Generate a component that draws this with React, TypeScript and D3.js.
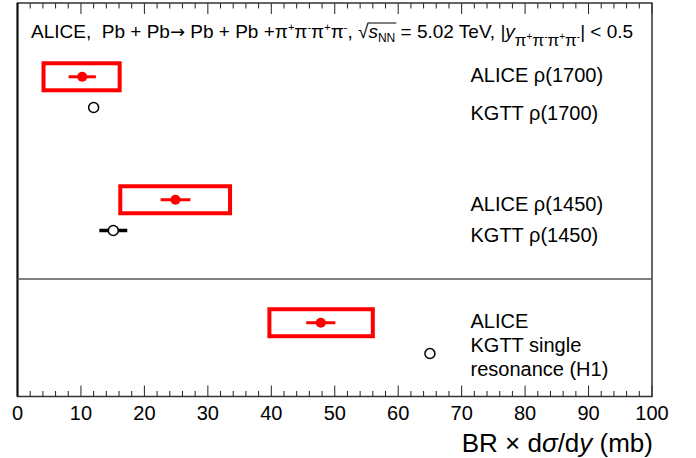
import React, { useLayoutEffect, useRef, useState } from 'react';
import * as d3 from 'd3';

const W = 696;
const H = 458;

// ---------- data ----------
const xDomain = [0, 100];
const tickLabels = [0, 10, 20, 30, 40, 50, 60, 70, 80, 90, 100];

const aliceLabels = ['ALICE ρ(1700)', 'ALICE ρ(1450)', 'ALICE'];
const aliceValues = [10.2, 24.9, 47.8];
const aliceStatErr = [2.15, 2.35, 2.3];
const aliceSysLow = [4.1, 16.2, 39.7];
const aliceSysHigh = [16.1, 33.5, 56.0];

const kgttLabels = ['KGTT ρ(1700)', 'KGTT ρ(1450)', 'KGTT single|resonance (H1)'];
const kgttValues = [12.0, 15.1, 65.0];
const kgttErr = [0, 2.2, 0];

// row positions (category axis units)
const aliceRows = [10, 6, 2];
const kgttRows = [9, 5, 1];
const dividerRow = 3.42;

// ---------- layout ----------
const FONT = '"Liberation Sans", Arial, Helvetica, sans-serif';
const frame = { left: 17.5, right: 652, top: 3, bottom: 396.5 };
const labelX = 470.5;
const labelBaselines = [[82.3, 120], [210.7, 241.7], [328.3, 352, 375.5]];

type Seg = { t: string; size?: number; dy?: number; italic?: boolean; key?: string; font?: string };
const titleSegs: Seg[] = [
  { t: 'ALICE,  Pb + Pb' },
  { t: '→', font: '"DejaVu Sans", sans-serif', size: 18 },
  { t: ' Pb + Pb +' },
  { t: 'π' }, { t: '+', size: 11, dy: -7 }, { t: 'π' }, { t: '-', size: 11, dy: -7 },
  { t: 'π' }, { t: '+', size: 11, dy: -7 }, { t: 'π' }, { t: '-', size: 11, dy: -7 },
  { t: ', ' },
  { t: '√', key: 'rad' },
  { t: 's', italic: true, key: 'sStart' },
  { t: 'NN', size: 12, dy: 4, key: 'nnEnd' },
  { t: ' = 5.02 TeV, |' },
  { t: 'y', italic: true },
  { t: 'π', size: 17, dy: 8 }, { t: '+', size: 10, dy: 2 },
  { t: 'π', size: 17, dy: 8 }, { t: '-', size: 10, dy: 2 },
  { t: 'π', size: 17, dy: 8 }, { t: '+', size: 10, dy: 2 },
  { t: 'π', size: 17, dy: 8 }, { t: '-', size: 10, dy: 2 },
  { t: '| < 0.5' },
];

export default function App() {
  const x = d3.scaleLinear().domain(xDomain).range([frame.left, frame.right]);
  const y = d3.scaleLinear().domain([-0.4, 12.4]).range([frame.bottom, frame.top]);
  const minorTicks = x.ticks(50);
  const titleRef = useRef<SVGTextElement>(null);
  const [over, setOver] = useState<{ x1: number; x2: number } | null>(null);

  const titleX = 31;
  const titleY = 38;
  const titleSize = 19;

  useLayoutEffect(() => {
    const el = titleRef.current;
    if (!el) return;
    let idx = 0;
    let radIdx = 0, nnEnd = 0;
    titleSegs.forEach((s) => {
      if (s.key === 'rad') radIdx = idx;
      if (s.key === 'nnEnd') nnEnd = idx + s.t.length - 1;
      idx += s.t.length;
    });
    try {
      const x1 = el.getEndPositionOfChar(radIdx).x;
      const x2 = el.getEndPositionOfChar(nnEnd).x;
      setOver({ x1, x2 });
    } catch (e) {
      /* ignore */
    }
  }, []);

  let prevShift = 0;
  const tspans = titleSegs.map((s, i) => {
    const shift = s.dy ?? 0;
    const d = shift - prevShift;
    prevShift = shift;
    return (
      <tspan
        key={i}
        dy={d}
        fontSize={s.size ?? titleSize}
        fontStyle={s.italic ? 'italic' : 'normal'}
        fontFamily={s.font ?? FONT}
      >
        {s.t}
      </tspan>
    );
  });

  const boxHalf = 13.5;

  return (
    <svg
      width={W}
      height={H}
      style={{ position: 'absolute', left: 0, top: 0, background: '#fff' }}
      fontFamily={FONT}
    >
      <rect x={0} y={0} width={W} height={H} fill="#fff" />

      {/* ticks top & bottom */}
      {minorTicks.map((v) => {
        const major = Math.abs(v % 10) < 1e-6;
        const len = major ? 11 : 5.5;
        return (
          <g key={v} stroke="#222" strokeWidth={1}>
            <line x1={x(v)} x2={x(v)} y1={frame.bottom} y2={frame.bottom - len} />
            <line x1={x(v)} x2={x(v)} y1={frame.top} y2={frame.top + len} />
          </g>
        );
      })}

      {/* frame */}
      <rect
        x={frame.left}
        y={frame.top}
        width={frame.right - frame.left}
        height={frame.bottom - frame.top}
        fill="none"
        stroke="#333"
        strokeWidth={1.5}
      />
      <line x1={frame.left} x2={frame.left} y1={frame.top} y2={frame.bottom} stroke="#111" strokeWidth={2} />
      <line x1={frame.left} x2={frame.right} y1={y(dividerRow)} y2={y(dividerRow)} stroke="#555" strokeWidth={1.5} />

      {/* tick labels */}
      {tickLabels.map((v) => (
        <text key={v} x={x(v)} y={420} fontSize={20} textAnchor="middle" fill="#000">
          {v}
        </text>
      ))}

      {/* axis title */}
      <text x={653} y={452} fontSize={26} textAnchor="end" fill="#000" style={{ whiteSpace: 'pre' }}>
        <tspan>BR </tspan>
        <tspan>× d</tspan>
        <tspan fontStyle="italic">σ</tspan>
        <tspan>/d</tspan>
        <tspan fontStyle="italic">y</tspan>
        <tspan> (mb)</tspan>
      </text>

      {/* title */}
      <text ref={titleRef} x={titleX} y={titleY} fontSize={titleSize} fill="#000" style={{ whiteSpace: 'pre' }}>
        {tspans}
      </text>
      {over && (
        <line x1={over.x1 - 1} x2={over.x2 + 1} y1={titleY - 15} y2={titleY - 15} stroke="#000" strokeWidth={1} />
      )}

      {/* ALICE systematic boxes + points */}
      {aliceValues.map((v, i) => {
        const cy = y(aliceRows[i]);
        return (
          <g key={'a' + i}>
            <rect
              x={x(aliceSysLow[i])}
              y={cy - boxHalf}
              width={x(aliceSysHigh[i]) - x(aliceSysLow[i])}
              height={boxHalf * 2}
              fill="none"
              stroke="#ff0000"
              strokeWidth={4}
            />
            <line
              x1={x(v - aliceStatErr[i])}
              x2={x(v + aliceStatErr[i])}
              y1={cy}
              y2={cy}
              stroke="#ff0000"
              strokeWidth={3}
            />
            <circle cx={x(v)} cy={cy} r={5} fill="#ff0000" />
          </g>
        );
      })}

      {/* KGTT points */}
      {kgttValues.map((v, i) => {
        const cy = y(kgttRows[i]);
        return (
          <g key={'k' + i}>
            {kgttErr[i] > 0 && (
              <line
                x1={x(v - kgttErr[i])}
                x2={x(v + kgttErr[i])}
                y1={cy}
                y2={cy}
                stroke="#000"
                strokeWidth={3.5}
              />
            )}
            <circle cx={x(v)} cy={cy} r={5} fill="#fff" stroke="#000" strokeWidth={1.5} />
          </g>
        );
      })}

      {/* labels */}
      {aliceLabels.map((lab, i) => {
        const lines = [lab, ...kgttLabels[i].split('|')];
        return lines.map((l, j) => (
          <text key={i + '-' + j} x={labelX} y={labelBaselines[i][j]} fontSize={20} fill="#000">
            {l}
          </text>
        ));
      })}
    </svg>
  );
}
